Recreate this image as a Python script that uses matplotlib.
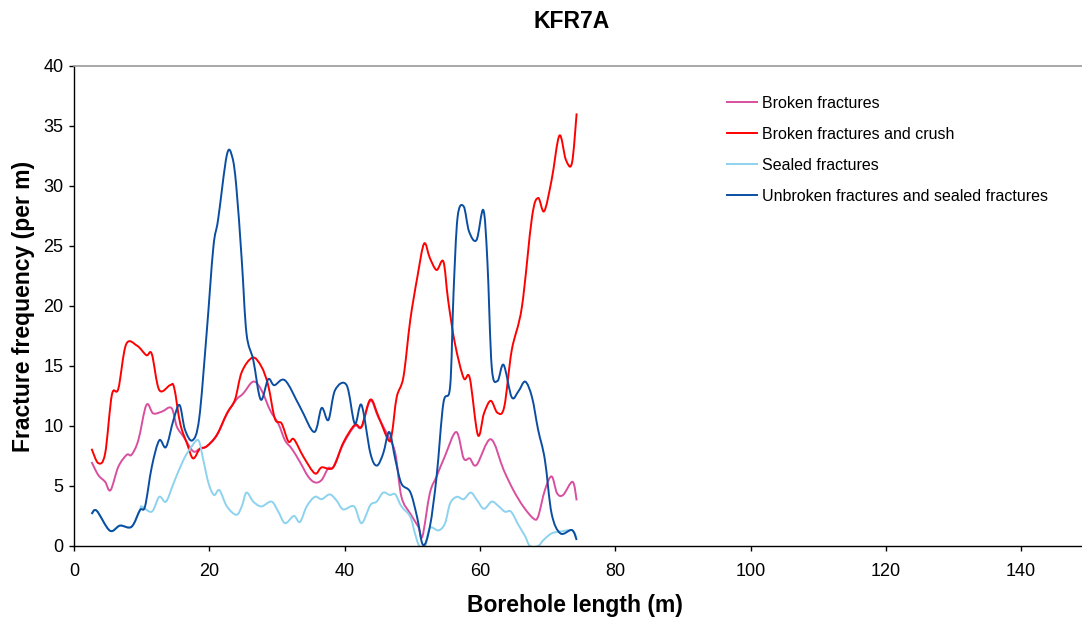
import matplotlib
matplotlib.use("Agg")
import matplotlib.pyplot as plt
from matplotlib.path import Path
from matplotlib.patches import PathPatch
from matplotlib.lines import Line2D

# ---- data ----
unbroken_x = [2.6, 3.35, 5.3, 6.8, 8.5, 9.76, 10.5, 11.5, 12.6, 13.6, 14.7, 15.6, 16.4, 17.5, 18.5,
              19.6, 20.6, 21.3, 22.6, 23.4, 24.0, 24.8, 25.5, 26.5, 27.6, 28.7, 29.6, 31.2, 33.4,
              35.5, 36.6, 37.6, 38.6, 40.3, 41.5, 42.5, 43.8, 44.75, 45.7, 46.6, 47.5, 48.4, 49.7,
              50.7, 51.6, 52.6, 53.6, 54.6, 55.6, 56.1, 56.7, 57.6, 58.4, 59.5, 60.5, 61.1, 61.75,
              62.6, 63.5, 64.7, 65.7, 66.7, 67.7, 68.6, 69.6, 70.6, 71.9, 73.6, 74.3]
unbroken_y = [2.67, 2.94, 1.28, 1.7, 1.6, 3.0, 3.3, 6.6, 8.8, 8.25, 10.5, 11.75, 9.7, 8.8, 10.6,
              17.7, 24.9, 27.2, 32.6, 32.4, 29.9, 23.8, 17.7, 15.5, 12.2, 13.9, 13.4, 13.8, 11.6,
              9.5, 11.5, 10.5, 13.0, 13.4, 10.2, 11.75, 7.75, 6.7, 7.7, 9.5, 7.2, 5.2, 4.5,
              2.45, 0.08, 1.6, 5.8, 11.9, 13.3, 21.05, 27.4, 28.3, 26.2, 25.5, 28.0, 23.8, 14.9,
              13.75, 15.1, 12.4, 12.9, 13.7, 12.4, 9.7, 7.2, 2.7, 1.05, 1.33, 0.5]

crush_x = [2.6, 3.6, 4.6, 5.6, 6.55, 7.7, 9.3, 10.7, 11.5, 12.6, 14.2, 14.8, 15.7, 16.7, 17.6,
           18.6, 19.6, 21.1, 22.6, 23.8, 24.8, 26.4, 27.7, 28.7, 29.7, 30.7, 31.7, 32.5, 33.9,
           35.6, 36.6, 38.3, 39.8, 41.5, 42.5, 43.8, 45.0, 46.5, 47.0, 47.7, 48.7, 49.7, 50.75,
           51.75, 52.6, 53.6, 54.6, 55.3, 56.3, 57.6, 58.5, 59.7, 60.6, 61.6, 62.6, 63.6, 64.7,
           66.2, 67.7, 68.6, 69.5, 70.6, 71.75, 72.7, 73.6, 74.3]
crush_y = [8.1, 6.9, 7.7, 12.6, 13.1, 16.8, 16.7, 15.9, 16.0, 13.0, 13.4, 13.2, 10.2, 8.55, 7.3,
           8.1, 8.3, 9.25, 11.05, 12.2, 14.5, 15.7, 14.95, 13.4, 10.6, 10.2, 8.7, 8.9, 7.45,
           6.05, 6.55, 6.55, 8.6, 10.1, 9.95, 12.2, 10.8, 8.8, 9.4, 12.4, 14.1, 18.8, 22.4,
           25.2, 24.0, 23.0, 23.7, 20.5, 16.9, 14.0, 14.0, 9.25, 11.05, 12.1, 11.1, 11.6, 16.3,
           19.9, 27.4, 29.0, 27.9, 30.5, 34.2, 32.2, 31.9, 36.05]

broken_x = [2.6, 3.6, 4.6, 5.4, 6.55, 7.8, 8.5, 9.5, 10.7, 11.7, 13.0, 14.4, 15.2, 16.2, 17.6,
            18.6, 19.6, 21.1, 22.6, 24.0, 25.0, 26.5, 27.7, 29.0, 30.2, 31.2, 32.2, 33.4, 34.6,
            35.6, 36.6, 37.6, 38.3, 39.8, 41.5, 42.5, 43.8, 45.0, 46.5, 47.5, 48.4, 49.7, 50.9,
            51.5, 52.6, 53.6, 54.8, 56.5, 57.6, 58.5, 59.5, 61.6, 63.5, 64.95, 66.4, 67.9, 68.6,
            69.6, 70.6, 71.4, 72.3, 73.7, 74.3]
broken_y = [7.0, 5.9, 5.35, 4.65, 6.6, 7.6, 7.6, 8.8, 11.75, 11.05, 11.2, 11.5, 9.95, 9.1, 7.9,
            8.1, 8.3, 9.2, 11.0, 12.2, 12.7, 13.7, 13.0, 11.3, 10.2, 8.8, 8.1, 7.0, 5.8,
            5.3, 5.5, 6.5, 6.55, 8.5, 10.0, 9.9, 12.1, 10.7, 9.1, 7.7, 4.1, 2.7, 1.6,
            0.8, 4.4, 5.8, 7.45, 9.5, 7.3, 7.3, 6.75, 8.9, 6.35, 4.65, 3.3, 2.3, 2.45,
            4.65, 5.8, 4.4, 4.25, 5.35, 3.8]

sealed_x = [2.6, 3.35, 5.3, 6.8, 8.5, 9.76, 10.0, 11.5, 12.6, 13.6, 14.7, 16.2, 17.4, 18.4, 19.1,
            19.9, 20.7, 21.5, 22.6, 24.0, 24.8, 25.5, 26.5, 27.7, 29.2, 30.2, 31.2, 32.5, 33.4,
            34.4, 35.6, 36.6, 37.8, 38.8, 39.8, 41.4, 42.5, 43.8, 44.75, 45.7, 46.7, 47.5, 48.4,
            49.7, 50.4, 51.05, 51.9, 52.6, 53.9, 54.85, 55.6, 56.6, 57.6, 58.65, 59.6, 60.6, 61.75,
            62.7, 63.7, 64.6, 65.7, 66.7, 67.4, 68.6, 69.4, 70.6, 71.9, 73.6, 74.3]
sealed_y = [2.67, 2.94, 1.28, 1.7, 1.6, 3.0, 3.3, 2.86, 4.1, 3.7, 5.2, 7.2, 8.3, 8.8, 7.2,
            5.2, 4.25, 4.65, 3.3, 2.6, 3.3, 4.45, 3.7, 3.3, 3.7, 2.86, 1.9, 2.5, 2.0,
            3.3, 4.1, 3.9, 4.3, 3.8, 3.05, 3.3, 1.9, 3.4, 3.7, 4.45, 4.25, 4.3, 3.3,
            2.45, 1.05, 0.0, 0.0, 1.5, 1.3, 1.9, 3.55, 4.1, 3.9, 4.45, 3.8, 3.1, 3.7,
            3.35, 2.86, 2.86, 1.75, 0.8, 0.0, 0.0, 0.5, 1.05, 1.2, 1.3, 0.7]

series_names = ["Broken fractures", "Broken fractures and crush", "Sealed fractures",
                "Unbroken fractures and sealed fractures"]
series_x = [broken_x, crush_x, sealed_x, unbroken_x]
series_y = [broken_y, crush_y, sealed_y, unbroken_y]
series_colors = ["#d94f9f", "#ff0000", "#8dd2ee", "#0a4ea2"]


def smooth_path(xs, ys):
    """Excel-like smoothed line: cubic Bezier segments through the data points."""
    n = len(xs)
    verts = [(xs[0], ys[0])]
    codes = [Path.MOVETO]
    for i in range(n - 1):
        i0 = max(i - 1, 0)
        i3 = min(i + 2, n - 1)
        c1 = (xs[i] + (xs[i + 1] - xs[i0]) / 6.0, ys[i] + (ys[i + 1] - ys[i0]) / 6.0)
        c2 = (xs[i + 1] - (xs[i3] - xs[i]) / 6.0, ys[i + 1] - (ys[i3] - ys[i]) / 6.0)
        verts += [c1, c2, (xs[i + 1], ys[i + 1])]
        codes += [Path.CURVE4] * 3
    return Path(verts, codes)


plt.rcParams['font.family'] = ['Liberation Sans', 'DejaVu Sans']

fig = plt.figure(figsize=(10.82, 6.21), dpi=100)
ax = fig.add_axes([74/1082, 1-546/621, (1082-74)/1082, (546-66)/621])

LW = 1.4
handles = []
for name, xs, ys, c in zip(series_names, series_x, series_y, series_colors):
    ax.add_patch(PathPatch(smooth_path(xs, ys), fill=False, edgecolor=c, lw=LW,
                           joinstyle='round', capstyle='butt'))
    handles.append(Line2D([], [], color=c, lw=LW, label=name))

ax.set_xlim(0, 149)
ax.set_ylim(0, 40)
ax.set_xticks(range(0, 141, 20))
ax.set_yticks(range(0, 41, 5))
ax.tick_params(axis='both', labelsize=13, direction='out', length=3.5, width=1, colors='black')
ax.tick_params(axis='x', pad=9)
ax.tick_params(axis='y', pad=4)
ax.spines['right'].set_visible(False)
ax.spines['top'].set_color('#999999')
ax.spines['top'].set_linewidth(1.2)
ax.spines['left'].set_linewidth(1.0)
ax.spines['bottom'].set_linewidth(1.0)

ax.set_title("KFR7A", fontsize=16.5, fontweight='bold', pad=27, x=(572-74)/1008)
ax.set_xlabel("Borehole length (m)", fontsize=16.5, fontweight='bold', labelpad=10,
              x=(575-74)/1008)
ax.set_ylabel("Fracture frequency (per m)", fontsize=16.5, fontweight='bold', labelpad=6)

leg = ax.legend(handles=handles, loc='upper left', bbox_to_anchor=(0.6335, 0.968),
                frameon=False, fontsize=11.5, handlelength=1.9, handletextpad=0.3,
                labelspacing=1.0)

fig.savefig("out.png", dpi=100)
